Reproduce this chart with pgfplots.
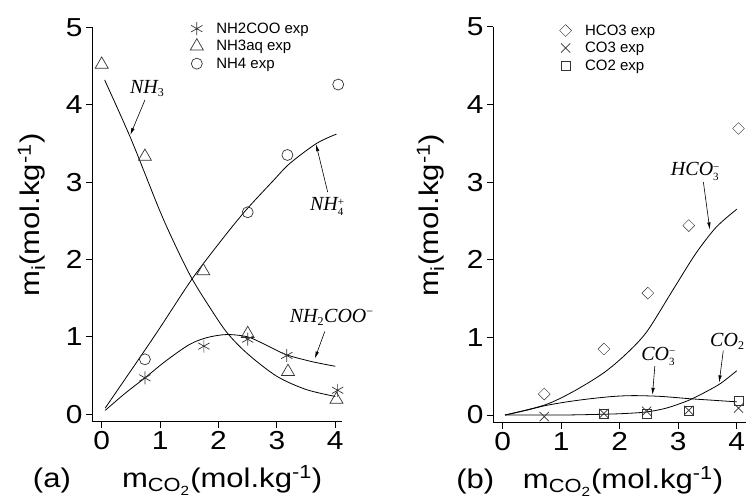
\documentclass[border=0pt]{standalone}
\usepackage{fontspec}
\setmainfont{Liberation Sans}
\newfontfamily\axfont[FakeStretch=1.15]{Liberation Sans}
\newfontfamily\tnr{Liberation Serif}
\usepackage{pgfplots}
\pgfplotsset{compat=1.18}
\usetikzlibrary{arrows.meta}
\newcommand{\lab}{\tnr\itshape\fontsize{20}{20}\selectfont}
\newcommand{\sbs}[2]{\raisebox{-5pt}{\tnr\upshape\fontsize{11}{13}\selectfont\shortstack[l]{#2\\#1}}}
\newcommand{\sbo}[1]{$_{\mbox{\tnr\upshape\fontsize{12}{12}\selectfont #1}}$}
\newcommand{\ylab}{m\textsubscript{i}(mol.kg\textsuperscript{-1})}
\newcommand{\xlab}{m$_{\mbox{\axfont\fontsize{19}{19}\selectfont CO\textsubscript{2}}}$(mol.kg\textsuperscript{-1})}
\tikzset{ann/.style={-{Latex[length=7pt,width=3.5pt]}, line width=0.6pt, black}}
\pgfplotsset{
  panel/.style={
    anchor=south west, scale only axis,
    ymin=-0.1, ymax=5,
    axis lines*=left,
    xtick={0,1,2,3,4}, ytick={0,1,2,3,4,5},
    tick align=outside, major tick length=6pt,
    tick style={line width=0.8pt, black},
    axis line style={line width=1pt, black},
    /pgf/number format/assume math mode=true,
    tick label style={font=\axfont\fontsize{26}{26}\selectfont},
    label style={font=\axfont\fontsize{27}{27}\selectfont},
    clip=false,
    legend style={draw=none, fill=none, inner sep=0pt, font=\fontsize{15}{15}\selectfont, anchor=north west,
      row sep=2.5pt, nodes={inner sep=1.5pt}},
    legend cell align=left,
    legend image code/.code={\path[draw=none,fill=none] (0pt,-7.5pt) rectangle (26pt,7.5pt); \draw[#1] plot coordinates {(8pt,0pt)};},
  },
  curve/.style={smooth, black, line width=0.8pt, no marks},
  pts/.style={only marks, color=black!80, mark options={line width=0.7pt, fill=none}},
}
\begin{document}
\begin{tikzpicture}
\useasboundingbox (0,0) rectangle (746pt,502pt);
% ---------- panel (a) ----------
\begin{axis}[panel,
  at={(92pt,80pt)}, width=250.3pt, height=394.7pt,
  xmin=-0.166, xmax=4.12,
  xlabel={\xlab}, ylabel={\ylab},
  xlabel style={at={(axis description cs:0.52,-0.165)}, anchor=base},
  ylabel style={at={(axis description cs:-0.208,0.524)}, anchor=base, rotate=0},
  legend style={at={(axis description cs:0.386,1.016)}},
]
\addplot[pts, mark=asterisk, mark size=6.5pt] coordinates {(0.74,0.47)(1.75,0.88)(2.5,0.97)(3.17,0.76)(4.04,0.31)};
\addplot[pts, mark=triangle, mark size=7.5pt] coordinates {(0,4.52)(0.74,3.33)(1.74,1.85)(2.5,1.04)(3.19,0.55)(4.02,0.19)};
\addplot[pts, mark=o, mark size=5.5pt] coordinates {(0.74,0.71)(2.5,2.61)(3.18,3.35)(4.05,4.26)};
\legend{NH2COO exp, NH3aq exp, NH4 exp}
\addplot[curve] coordinates {(0.05,4.32)(0.5,3.56)(1.0,2.62)(1.3,2.12)(1.54,1.76)(1.8,1.44)(2.14,1.06)(2.5,0.78)(3.0,0.49)(3.5,0.32)(4.0,0.23)};
\addplot[curve] coordinates {(0.06,0.08)(0.66,0.74)(1.0,1.12)(1.54,1.74)(2.0,2.2)(2.45,2.62)(2.94,3.02)(3.22,3.24)(3.68,3.5)(4.02,3.62)};
\addplot[curve] coordinates {(0.06,0.05)(0.4,0.27)(0.74,0.47)(1.1,0.69)(1.5,0.9)(1.8,0.99)(2.14,1.03)(2.5,1.0)(2.8,0.9)(3.16,0.77)(3.6,0.68)(4.0,0.62)};
\node[anchor=center] at (axis cs:0.78,4.21) {\lab NH\sbo{3}};
\draw[ann] (axis cs:0.74,4.06) -- (axis cs:0.49,3.61);
\node[anchor=center] at (axis cs:3.86,2.68) {\lab NH\sbs{4}{+}};
\draw[ann] (axis cs:3.87,2.87) -- (axis cs:3.67,3.49);
\node[anchor=center] at (axis cs:3.94,1.25) {\lab NH\sbo{2}COO$^{\mbox{\tnr\upshape\fontsize{12}{12}\selectfont −}}$};
\draw[ann] (axis cs:3.82,1.07) -- (axis cs:3.65,0.72);
\node[anchor=base, font=\axfont\fontsize{27}{27}\selectfont] at (axis description cs:-0.16,-0.165) {(a)};
\end{axis}
% ---------- panel (b) ----------
\begin{axis}[panel,
  at={(493pt,79.2pt)}, width=252.5pt, height=396pt,
  xmin=-0.166, xmax=4.15,
  xlabel={\xlab}, ylabel={\ylab},
  xlabel style={at={(axis description cs:0.515,-0.165)}, anchor=base},
  ylabel style={at={(axis description cs:-0.214,0.524)}, anchor=base, rotate=0},
  legend style={at={(axis description cs:0.255,1.01)}},
]
\addplot[pts, mark=square, mark size=4.2pt, mark options={rotate=45}] coordinates {(0.71,0.27)(1.73,0.85)(2.48,1.57)(3.18,2.44)(4.03,3.69)};
\addplot[pts, mark=x, mark size=6.5pt] coordinates {(0.71,-0.02)(1.73,0.02)(2.46,0.05)(3.18,0.06)(4.03,0.09)};
\addplot[pts, mark=square, mark size=4.5pt] coordinates {(1.73,0.01)(2.46,0.01)(3.18,0.05)(4.03,0.18)};
\legend{HCO3 exp, CO3 exp, CO2 exp}
\addplot[curve] coordinates {(0.04,0)(0.72,0.13)(1.2,0.3)(1.72,0.54)(2.1,0.78)(2.46,1.07)(2.9,1.6)(3.3,2.08)(3.65,2.42)(4.0,2.65)};
\addplot[curve] coordinates {(0.04,0)(0.4,0.06)(0.72,0.12)(1.1,0.17)(1.5,0.21)(1.9,0.24)(2.24,0.25)(2.7,0.24)(3.2,0.21)(3.6,0.19)(4.0,0.17)};
\addplot[curve] coordinates {(0.04,0)(1.0,0.0)(1.72,0.01)(2.1,0.02)(2.46,0.04)(2.8,0.09)(3.18,0.19)(3.5,0.31)(3.73,0.41)(4.0,0.57)};
\node[anchor=center] at (axis cs:3.29,3.14) {\lab HCO\sbs{3}{−}};
\draw[ann] (axis cs:3.43,3.0) -- (axis cs:3.54,2.39);
\node[anchor=center] at (axis cs:2.66,0.76) {\lab CO\sbs{3}{−}};
\draw[ann] (axis cs:2.6,0.63) -- (axis cs:2.56,0.26);
\node[anchor=center] at (axis cs:3.84,0.95) {\lab CO\sbo{2}};
\draw[ann] (axis cs:3.77,0.83) -- (axis cs:3.70,0.42);
\node[anchor=base, font=\axfont\fontsize{27}{27}\selectfont] at (axis description cs:-0.07,-0.165) {(b)};
\end{axis}
\end{tikzpicture}
\end{document}
